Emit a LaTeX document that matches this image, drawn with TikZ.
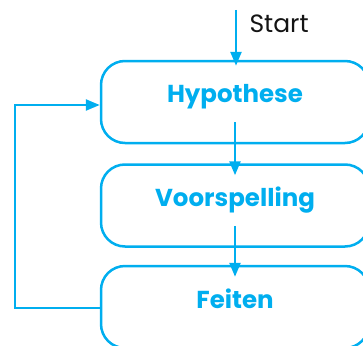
\documentclass[tikz,border=0pt]{standalone}
\usepackage{fontspec}
\setmainfont{Poppins}
\usepackage{tikz}
\usetikzlibrary{
  arrows.meta,
  positioning,
  calc
}
\definecolor{flowcolor}{RGB}{0, 174, 239}
\definecolor{labelcolor}{RGB}{20, 20, 20}
\tikzset{
stepblock/.style={
  draw=flowcolor,
  line width=2.5pt,
  rounded corners=24pt,
  minimum height=82pt,
  minimum width=268pt,
  text depth=17pt,
  align=center,
  font=\fontsize{24.5}{28}\selectfont\bfseries,
  text=flowcolor
},
startlabel/.style={
  font=\fontsize{25}{30}\selectfont,
  text=labelcolor
},
arrow/.style={
  -{Triangle[length=14pt,width=11pt]},
  line width=2.5pt,
  draw=flowcolor
}
}

\begin{document}
\begin{tikzpicture}[x=1pt,y=1pt]
  \useasboundingbox (0,0) rectangle (363,-345);
  % the three steps
  \node[stepblock] (hyp) at (235,-102) {Hypothese};
  \node[stepblock, below=19pt of hyp] (voor) {Voorspelling};
  \node[stepblock, below=17pt of voor] (feit) {Feiten};
  % start
  \coordinate (begin) at (236,-10);
  \node[startlabel, anchor=west] (starttxt) at (246,-24) {Start};
  \coordinate (loop) at (15,0);
  % arrows
  \draw[arrow] (begin) -- ([yshift=-6pt]hyp.north -| begin);
  \draw[arrow] ([yshift=22pt]hyp.south) -- ([yshift=-12pt]voor.north);
  \draw[arrow] ([yshift=22pt]voor.south) -- ([yshift=-12pt]feit.north);
  \draw[arrow] ([yshift=-1pt]feit.west) -- ([yshift=-1pt]feit.west -| loop)
    -- ([yshift=-3pt]hyp.west -| loop) -- ([yshift=-3pt]hyp.west);
\end{tikzpicture}
\end{document}
